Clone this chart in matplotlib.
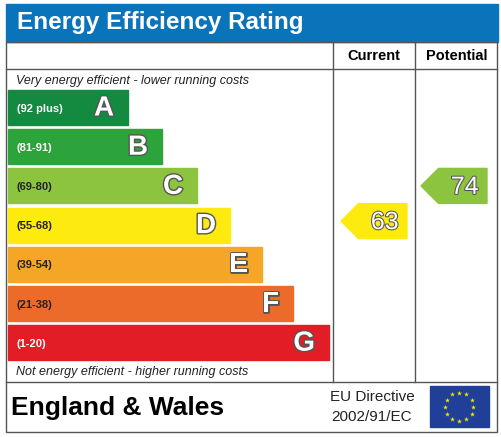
import matplotlib.pyplot as plt
from matplotlib.patches import Rectangle, Polygon
import matplotlib.patheffects as pe
import numpy as np

# EPC bands
letters = ['A', 'B', 'C', 'D', 'E', 'F', 'G']
ranges = ['(92 plus)', '(81-91)', '(69-80)', '(55-68)', '(39-54)', '(21-38)', '(1-20)']
colors = ['#138a40', '#2ca33b', '#8dc43f', '#fdea0f', '#f5a626', '#ec6b2a', '#e31d25']
lowers = [92, 81, 69, 55, 39, 21, 1]
current = 63
potential = 74

fig = plt.figure(figsize=(5.02, 4.37), dpi=100)
ax = fig.add_axes([0, 0, 1, 1])
ax.set_xlim(0, 502)
ax.set_ylim(437, 0)
ax.axis('off')

# header
ax.add_patch(Rectangle((6, 4), 492, 38, color='#0a74bb'))
ax.text(17, 23, 'Energy Efficiency Rating', color='white', fontsize=17.5,
        fontweight='bold', va='center', family='Liberation Sans')

# table frame
lc = '#555555'
ax.add_patch(Rectangle((6, 42), 491, 390, fill=False, ec=lc, lw=1))
ax.plot([6, 497], [69, 69], color=lc, lw=1)
ax.plot([6, 497], [382, 382], color=lc, lw=1)
ax.plot([333, 333], [42, 382], color=lc, lw=1)
ax.plot([415, 415], [42, 382], color=lc, lw=1)
ax.text(374, 56, 'Current', ha='center', va='center', fontsize=10.5, fontweight='bold', family='Liberation Sans')
ax.text(457, 56, 'Potential', ha='center', va='center', fontsize=10.5, fontweight='bold', family='Liberation Sans')
ax.text(16, 81, 'Very energy efficient - lower running costs', fontsize=9, style='italic',
        va='center', family='Liberation Sans', color='#222222')
ax.text(16, 372, 'Not energy efficient - higher running costs', fontsize=9, style='italic',
        va='center', family='Liberation Sans', color='#222222')

outline = [pe.withStroke(linewidth=2, foreground='#555555')]
top, step, h = 90, 39.2, 35
rights = [128, 162, 197, 230, 262, 293, 329]
for i, (l, r, c) in enumerate(zip(letters, ranges, colors)):
    y0 = top + i * step
    ax.add_patch(Rectangle((8, y0), rights[i] - 8, h, color=c))
    tc = 'white' if i in (0, 1, 6) else '#222222'
    ax.text(17, y0 + h / 2 + 1, r, fontsize=8, fontweight='bold', va='center',
            color=tc, family='Liberation Sans')
    ax.text(rights[i] - 14, y0 + h / 2 + 1, l, fontsize=20, fontweight='bold', va='center',
            ha='right', color='white', family='Liberation Sans', path_effects=outline)

def band_of(v):
    for i, lo in enumerate(lowers):
        if v >= lo:
            return i
    return 6

def arrow(x0, x1, v, yc):
    i = band_of(v)
    hh = h / 2
    pts = [(x0, yc), (x0 + hh, yc - hh), (x1, yc - hh), (x1, yc + hh), (x0 + hh, yc + hh)]
    ax.add_patch(Polygon(pts, color=colors[i]))
    ax.text((x0 + hh + x1) / 2 + 2, yc + 1, str(v), fontsize=18, ha='center', va='center',
            color='white', family='Liberation Sans',
            path_effects=[pe.withStroke(linewidth=1.5, foreground='#555555')])

arrow(341, 407, current, top + band_of(current) * step + h / 2 - 4)
arrow(421, 487, potential, top + band_of(potential) * step + h / 2)

# footer
ax.text(11, 408, 'England & Wales', fontsize=19, fontweight='bold', va='center', family='Liberation Sans')
ax.text(372, 397, 'EU Directive', fontsize=11, ha='center', va='center', family='Liberation Sans', color='#222222')
ax.text(372, 417, '2002/91/EC', fontsize=11, ha='center', va='center', family='Liberation Sans', color='#222222')
ax.add_patch(Rectangle((430, 386), 59, 41, color='#1f3f99'))
ang = np.linspace(0, 2 * np.pi, 13)[:-1]
ax.scatter(459.5 + 14 * np.cos(ang), 406.5 + 14 * np.sin(ang), marker='*', s=14, color='#f3e600', lw=0)

fig.savefig('out.png', dpi=100)
